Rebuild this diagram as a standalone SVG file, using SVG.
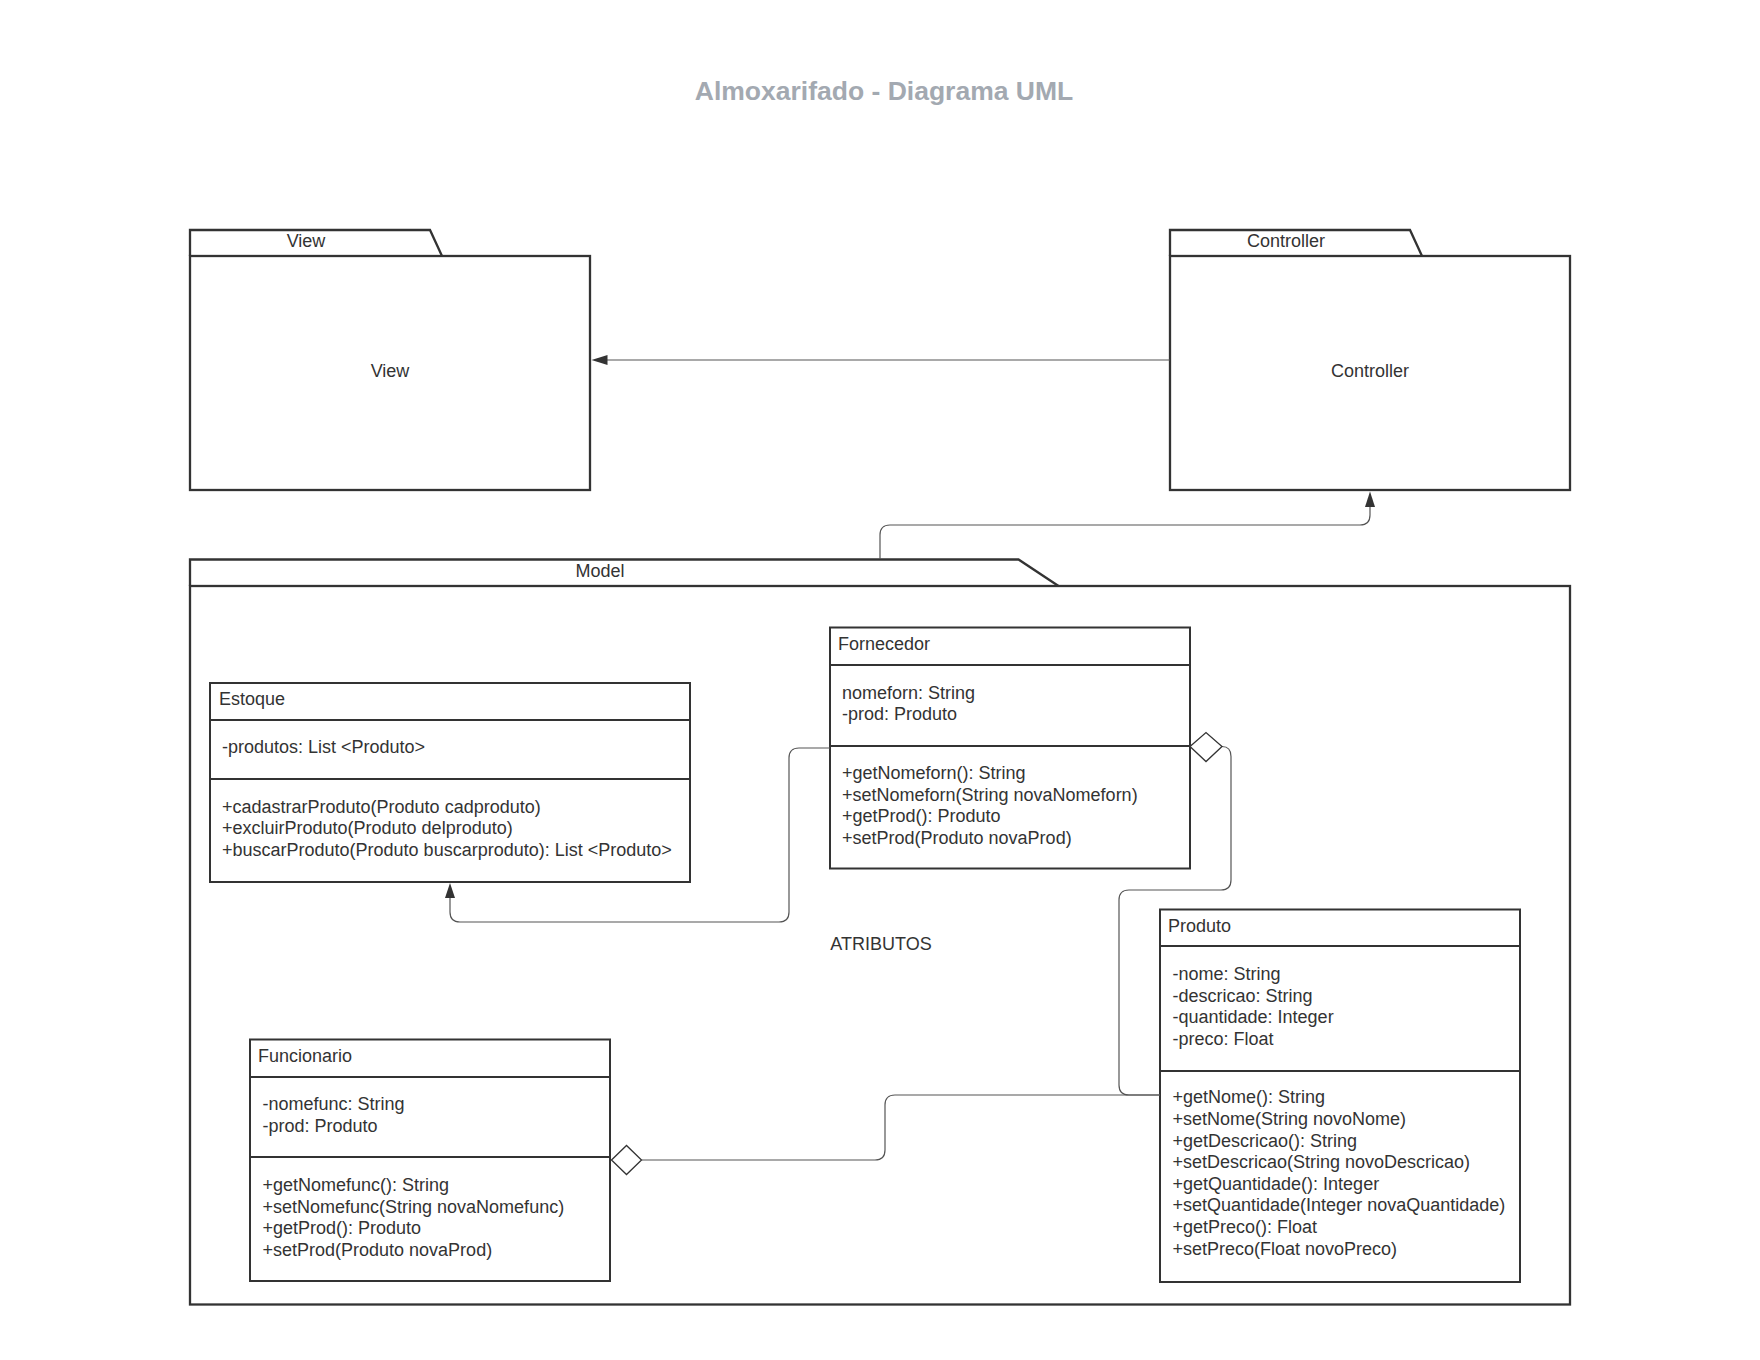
<svg xmlns="http://www.w3.org/2000/svg" width="1760" height="1360" viewBox="0 0 1760 1360">
<style>
.pk{fill:#fff;stroke:#333;stroke-width:2.3}
.tab{fill:#fff;stroke:#333;stroke-width:2.3;stroke-linejoin:miter}
.cl{fill:#fff;stroke:#333;stroke-width:2}
.dv{stroke:#333;stroke-width:2}
.t{font-family:"Liberation Sans",Arial,sans-serif;font-size:18px;fill:#333}
.c{text-anchor:middle}
.title{font-family:"Liberation Sans",Arial,sans-serif;font-size:26.5px;font-weight:bold;fill:#a3a9b1;text-anchor:middle}
.ln{fill:none;stroke:#555;stroke-width:1.2}
.ah{fill:#333}
.dm{fill:#fff;stroke:#333;stroke-width:1.3}
</style>
<rect width="1760" height="1360" fill="#fff"/>
<text class="title" x="884" y="100">Almoxarifado - Diagrama UML</text>

<g id="pkg-view">
<path class="tab" d="M190,256 L190,230 L430,230 L442,256"/>
<rect class="pk" x="190" y="256" width="400" height="234"/>
<text class="t c" x="306" y="247">View</text>
<text class="t c" x="390" y="377">View</text>
</g>

<g id="pkg-controller">
<path class="tab" d="M1170,256 L1170,230 L1410,230 L1422,256"/>
<rect class="pk" x="1170" y="256" width="400" height="234"/>
<text class="t c" x="1286" y="247">Controller</text>
<text class="t c" x="1370" y="377">Controller</text>
</g>

<g id="pkg-model">
<path class="tab" d="M190,586 L190,559.5 L1018.5,559.5 L1058.5,586"/>
<rect class="pk" x="190" y="586" width="1380" height="718.5"/>
<text class="t c" x="600" y="576.5">Model</text>
<text class="t c" x="881" y="949.5">ATRIBUTOS</text>
</g>

<g id="class-estoque">
<rect class="cl" x="210" y="683" width="480" height="199"/>
<line class="dv" x1="210" y1="720" x2="690" y2="720"/>
<line class="dv" x1="210" y1="779" x2="690" y2="779"/>
<text class="t" x="219" y="705">Estoque</text>
<text class="t" x="222" y="753">-produtos: List &lt;Produto&gt;</text>
<text class="t" x="222" y="812.5">+cadastrarProduto(Produto cadproduto)</text>
<text class="t" x="222" y="834">+excluirProduto(Produto delproduto)</text>
<text class="t" x="222" y="855.7">+buscarProduto(Produto buscarproduto): List &lt;Produto&gt;</text>
</g>

<g id="class-fornecedor">
<rect class="cl" x="830" y="627.5" width="360" height="241"/>
<line class="dv" x1="830" y1="665" x2="1190" y2="665"/>
<line class="dv" x1="830" y1="746" x2="1190" y2="746"/>
<text class="t" x="838" y="650">Fornecedor</text>
<text class="t" x="842" y="698.5">nomeforn: String</text>
<text class="t" x="842" y="720">-prod: Produto</text>
<text class="t" x="842" y="779">+getNomeforn(): String</text>
<text class="t" x="842" y="800.5">+setNomeforn(String novaNomeforn)</text>
<text class="t" x="842" y="822">+getProd(): Produto</text>
<text class="t" x="842" y="843.5">+setProd(Produto novaProd)</text>
</g>

<g id="class-produto">
<rect class="cl" x="1160" y="909.5" width="360" height="372.5"/>
<line class="dv" x1="1160" y1="946" x2="1520" y2="946"/>
<line class="dv" x1="1160" y1="1071" x2="1520" y2="1071"/>
<text class="t" x="1168" y="931.5">Produto</text>
<text class="t" x="1172.5" y="980">-nome: String</text>
<text class="t" x="1172.5" y="1001.6">-descricao: String</text>
<text class="t" x="1172.5" y="1023.2">-quantidade: Integer</text>
<text class="t" x="1172.5" y="1044.8">-preco: Float</text>
<text class="t" x="1172.5" y="1103.3">+getNome(): String</text>
<text class="t" x="1172.5" y="1124.9">+setNome(String novoNome)</text>
<text class="t" x="1172.5" y="1146.5">+getDescricao(): String</text>
<text class="t" x="1172.5" y="1168.1">+setDescricao(String novoDescricao)</text>
<text class="t" x="1172.5" y="1189.7">+getQuantidade(): Integer</text>
<text class="t" x="1172.5" y="1211.3">+setQuantidade(Integer novaQuantidade)</text>
<text class="t" x="1172.5" y="1232.9">+getPreco(): Float</text>
<text class="t" x="1172.5" y="1254.5">+setPreco(Float novoPreco)</text>
</g>

<g id="class-funcionario">
<rect class="cl" x="250" y="1039.5" width="360" height="241.5"/>
<line class="dv" x1="250" y1="1077" x2="610" y2="1077"/>
<line class="dv" x1="250" y1="1157" x2="610" y2="1157"/>
<text class="t" x="258" y="1061.5">Funcionario</text>
<text class="t" x="262.5" y="1110">-nomefunc: String</text>
<text class="t" x="262.5" y="1131.6">-prod: Produto</text>
<text class="t" x="262.5" y="1191">+getNomefunc(): String</text>
<text class="t" x="262.5" y="1212.6">+setNomefunc(String novaNomefunc)</text>
<text class="t" x="262.5" y="1234.2">+getProd(): Produto</text>
<text class="t" x="262.5" y="1255.8">+setProd(Produto novaProd)</text>
</g>

<g id="connectors">
<path class="ln" d="M1170,360 L607,360"/>
<polygon class="ah" points="591.5,360 607.5,355 607.5,365"/>
<path class="ln" d="M880,559 L880,535 Q880,525 890,525 L1360,525 Q1370,525 1370,515 L1370,506"/>
<polygon class="ah" points="1370,491.5 1365,507 1375,507"/>
<path class="ln" d="M830,748 L799,748 Q789,748 789,758 L789,912 Q789,922 779,922 L460,922 Q450,922 450,912 L450,897"/>
<polygon class="ah" points="450,883 445,898 455,898"/>
<path class="ln" d="M1222,746.5 Q1231,746.5 1231,756.5 L1231,880 Q1231,890 1221,890 L1129,890 Q1119,890 1119,900 L1119,1085 Q1119,1095 1129,1095 L1160,1095"/>
<polygon class="dm" points="1190,746.5 1206,732.5 1222,746.5 1206,761.5"/>
<path class="ln" d="M641.5,1160 L875,1160 Q885,1160 885,1150 L885,1105 Q885,1095 895,1095 L1160,1095"/>
<polygon class="dm" points="611.5,1160 626.5,1145.5 641.5,1160 626.5,1174.5"/>
</g>
</svg>
